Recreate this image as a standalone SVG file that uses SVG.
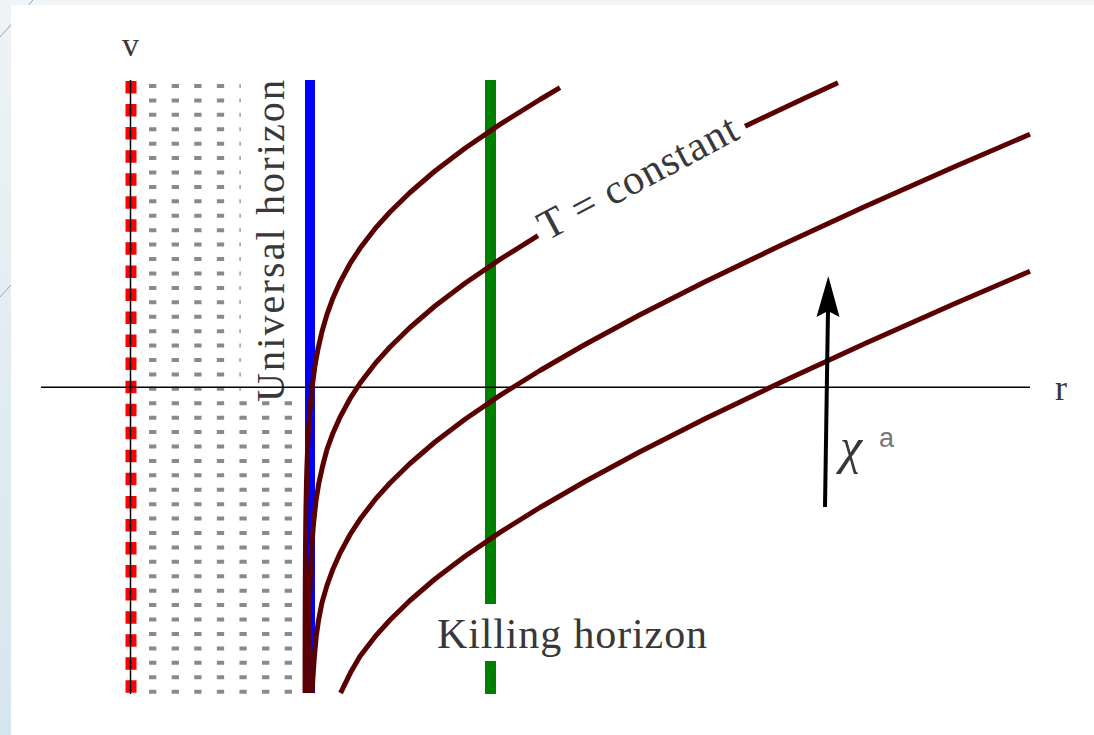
<svg xmlns="http://www.w3.org/2000/svg" width="1094" height="735" viewBox="0 0 1094 735">
<defs>
<linearGradient id="strip" x1="0" y1="0" x2="0" y2="1">
<stop offset="0" stop-color="#eef3f5"/>
<stop offset="1" stop-color="#d6e6ed"/>
</linearGradient>
<style>
.lbl{font-family:"Liberation Serif","DejaVu Serif",serif;fill:#383838;}
.dots{stroke:#8a8a8a;stroke-width:7.3;stroke-dasharray:4 10.42;fill:none;}
.curve{fill:none;stroke:#5a0000;stroke-width:5;stroke-linejoin:round;}
.deco{stroke:#8fa6b2;stroke-width:1;fill:none;}
</style>
</defs>
<rect x="0" y="0" width="1094" height="735" fill="#f1f5f7"/>
<rect x="0" y="0" width="11" height="735" fill="url(#strip)"/>
<line class="deco" x1="0" y1="37" x2="33" y2="0"/>
<line class="deco" x1="0" y1="297" x2="11" y2="285"/>
<rect x="11" y="5" width="1083" height="730" fill="#ffffff"/>

<g id="shaded-region">
<line class="dots" x1="152.7" y1="84" x2="152.7" y2="694"/>
<line class="dots" x1="175.3" y1="84" x2="175.3" y2="694"/>
<line class="dots" x1="197.9" y1="84" x2="197.9" y2="694"/>
<line class="dots" x1="220.5" y1="84" x2="220.5" y2="694"/>
<line class="dots" x1="243.1" y1="84" x2="243.1" y2="694"/>
<line class="dots" x1="265.7" y1="84" x2="265.7" y2="694"/>
<line class="dots" x1="288.3" y1="84" x2="288.3" y2="694"/>
</g>

<g id="v-axis">
<line x1="131" y1="81" x2="131" y2="694" stroke="#ff0000" stroke-width="11" stroke-dasharray="12.5 10.55"/>
<line x1="130.5" y1="80" x2="130.5" y2="694" stroke="#000" stroke-width="1.5"/>
<text class="lbl" x="130.5" y="56" font-size="34" text-anchor="middle">v</text>
</g>

<g id="universal-horizon">
<rect x="240.7" y="70" width="60" height="327" fill="#ffffff"/>
<line x1="310" y1="80" x2="310" y2="693" stroke="#0000ff" stroke-width="10"/>
<text class="lbl" transform="translate(284,402) rotate(-90)" font-size="40" textLength="322" lengthAdjust="spacing">Universal horizon</text>
</g>

<g id="killing-horizon">
<line x1="490.5" y1="80" x2="490.5" y2="604" stroke="#008000" stroke-width="11"/>
<line x1="490.5" y1="661" x2="490.5" y2="694" stroke="#008000" stroke-width="11"/>
<text class="lbl" x="437" y="648" font-size="42" textLength="270" lengthAdjust="spacing">Killing horizon</text>
</g>

<g id="r-axis">
<line x1="41" y1="387.3" x2="1030" y2="387.3" stroke="#000" stroke-width="1.4"/>
<text class="lbl" x="1055" y="400" font-size="36">r</text>
</g>

<g id="connectors">
<polyline id="curve1" class="curve" points="305.05,693 305.1,643.9 305.2,602.5 305.3,578.3 305.5,547.7 305.75,523.4 306,506.2 306.5,481.8 307,464.4 308,439.9 309,422.3 310,408.7 312,387.9 315,365.6 318,348.9 322,331.5 327,314.4 333,297.9 340,282.2 350,263.7 360,248.3 375,228.7 390,212.0 410,192.5 435,171.0 465,148.3 500,124.4 540,99.5 560,87.7"/>
<polyline id="curve2a" class="curve" points="308,693 308.2,682.7 308.4,658.4 308.7,641.2 309.1,616.8 309.6,599.4 310.4,574.9 311.2,557.3 312,543.7 313.6,522.9 316,500.6 318.7,483.9 322.5,466.5 327,449.4 333,432.9 340,417.2 350,398.7 360,383.3 375,363.7 390,347.0 410,327.5 435,306.0 465,283.3 500,259.4 538,235.7"/>
<polyline id="curve2b" class="curve" points="745,126.3 780,109.7 805,98.0 838,82.8"/>
<polyline id="curve3" class="curve" points="312,693 312.8,679.7 314.2,658.9 316.2,636.6 318.6,619.9 322,602.5 327,585.4 333,568.9 340,553.2 350,534.7 360,519.3 375,499.7 390,483.0 410,463.5 435,442.0 465,419.3 500,395.4 540,370.5 585,344.5 640,314.8 705,281.8 780,245.7 865,206.5 955,166.5 1030,134.2"/>
<polyline id="curve4" class="curve" points="340.5,693 342,690.2 351,671.7 360,656.3 375,636.7 390,620.0 410,600.5 435,579.0 465,556.3 500,532.4 540,507.5 585,481.5 640,451.8 705,418.8 780,382.7 865,343.5 955,303.5 1030,271.2"/>
<line x1="825" y1="507" x2="828" y2="310" stroke="#000" stroke-width="4"/>
<polygon points="828.3,276 839.5,317 828,311 816.5,317" fill="#000"/>
</g>

<g id="t-label">
<text class="lbl" transform="translate(547,241) rotate(-28)" font-size="42" textLength="220" lengthAdjust="spacing">T = constant</text>
</g>

<g id="chi-label">
<text class="lbl" x="840" y="463" font-size="50" font-style="italic">χ</text>
<text x="879" y="447" font-size="27" font-family="Liberation Sans, Arial, sans-serif" fill="#777">a</text>
</g>
</svg>
